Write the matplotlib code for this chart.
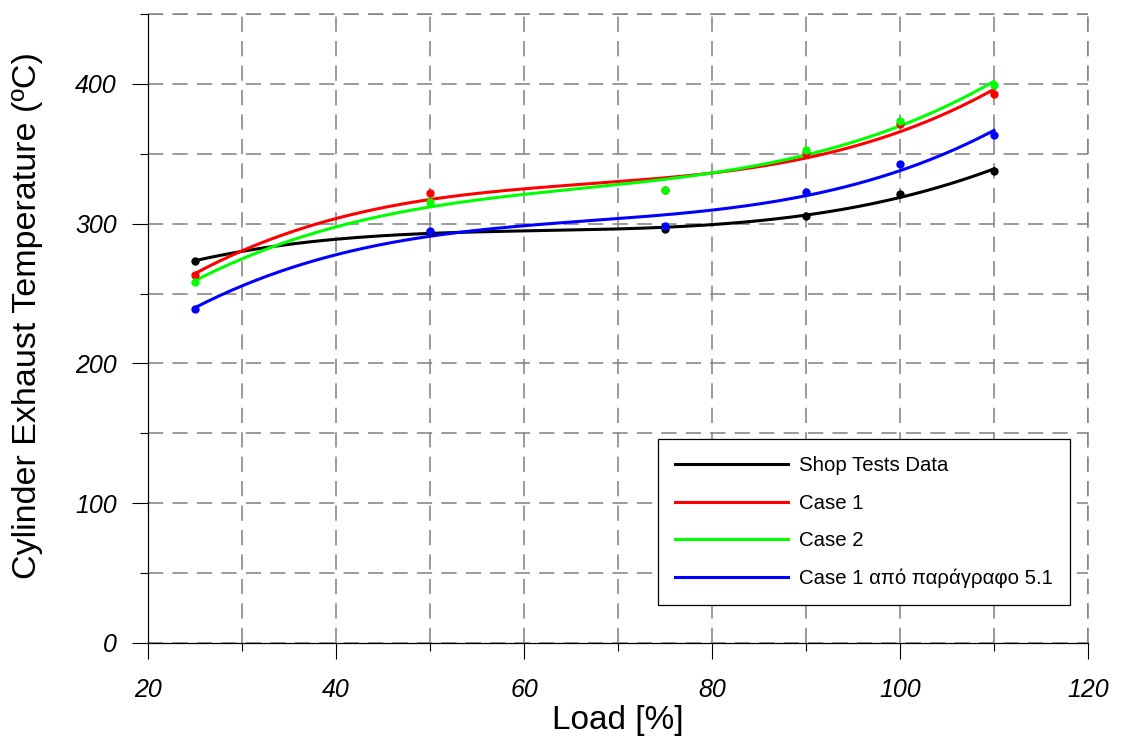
import matplotlib
matplotlib.use("Agg")
import matplotlib.pyplot as plt
import numpy as np
from matplotlib.ticker import MultipleLocator

# Load points
load = [25, 50, 75, 90, 100, 110]
shop_tests = [273.3, 294.0, 296.0, 305.5, 321.3, 338.0]
case1 = [263.3, 321.8, 324.0, 350.6, 371.0, 392.6]
case2 = [258.3, 315.8, 324.1, 352.8, 373.8, 399.0]
case1_par51 = [239.0, 295.0, 298.6, 323.0, 342.8, 363.5]

labels = ["Shop Tests Data", "Case 1", "Case 2", "Case 1 από παράγραφο 5.1"]
colors = ["#000000", "#ff0000", "#00ff00", "#0000ff"]
x_ticks = [20, 40, 60, 80, 100, 120]
y_ticks = [0, 100, 200, 300, 400]

plt.rcParams["font.family"] = ["Liberation Sans", "DejaVu Sans"]

fig = plt.figure(figsize=(11.22, 7.44), dpi=100)
ax = fig.add_axes([148 / 1122, 1 - 643 / 744, 940 / 1122, 629 / 744])

xs = np.linspace(load[0], load[-1], 200)
for series, lab, col in zip([shop_tests, case1, case2, case1_par51], labels, colors):
    # cubic trend line through the measured points, like the original
    coef = np.polyfit(load, series, 3)
    ax.plot(xs, np.polyval(coef, xs), color=col, linewidth=2.2, label=lab, zorder=3)
    ax.plot(load, series, "o", color=col, markersize=5, zorder=4)

ax.set_xlim(20, 120)
ax.set_ylim(0, 450)
ax.set_xticks(x_ticks)
ax.set_yticks(y_ticks)
ax.xaxis.set_minor_locator(MultipleLocator(10))
ax.yaxis.set_minor_locator(MultipleLocator(50))
ax.tick_params(which="major", direction="out", length=11.5, width=0.8)
ax.tick_params(which="minor", direction="out", length=6, width=0.8)
ax.tick_params(axis="x", which="major", pad=14)
ax.tick_params(axis="y", which="major", pad=11)

for lbl in ax.get_xticklabels() + ax.get_yticklabels():
    lbl.set_fontstyle("italic")
    lbl.set_fontsize(18)

dash = (0, (10, 6))
ax.grid(True, which="both", color="#808080", linewidth=1.1, linestyle=dash)
ax.set_axisbelow(True)
ax.spines["top"].set_visible(False)
ax.spines["right"].set_visible(False)
ax.spines["left"].set_linewidth(0.9)
ax.spines["bottom"].set_linewidth(0.9)
# dashed border lines at top and right, as in the reference
ax.axhline(450, color="#808080", linewidth=1.1, linestyle=dash, clip_on=False)
ax.axvline(120, color="#808080", linewidth=1.1, linestyle=dash, clip_on=False)

ax.set_xlabel("Load [%]", fontsize=24, labelpad=2)
ax.set_ylabel("Cylinder Exhaust Temperature (ºC)", fontsize=24.5)
ax.yaxis.set_label_coords(-0.112, 0.52)

leg = ax.legend(loc="lower right", bbox_to_anchor=(0.981, 0.060), borderaxespad=0,
                fontsize=14.7, handlelength=5.5, labelspacing=0.9, fancybox=False,
                framealpha=1, edgecolor="black", borderpad=0.85, handletextpad=0.55)
leg.get_frame().set_linewidth(0.9)

fig.savefig("out.png", dpi=100)
